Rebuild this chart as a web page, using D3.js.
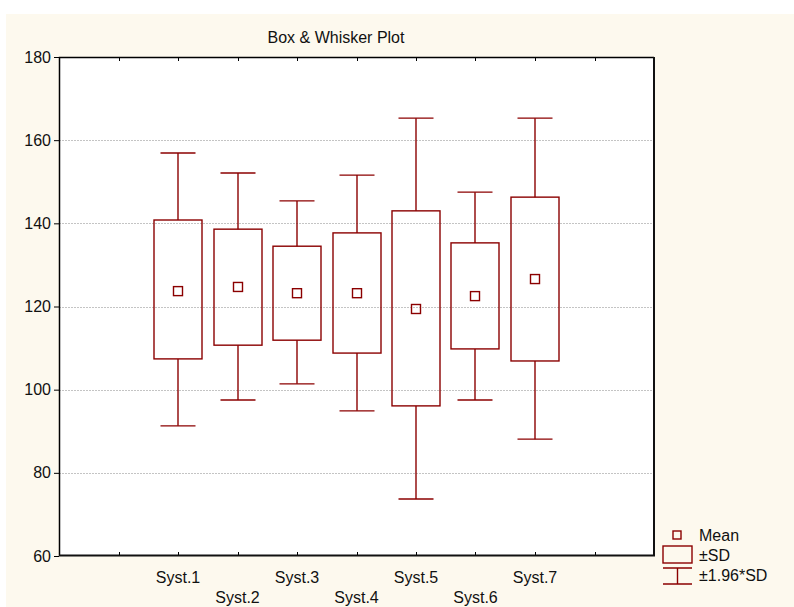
<!DOCTYPE html>
<html><head><meta charset="utf-8">
<script src="https://cdn.jsdelivr.net/npm/d3@7/dist/d3.min.js"></script>
<style>body{margin:0;background:#fff;} text{font-family:"Liberation Sans",Arial,sans-serif;}</style>
</head><body>
<svg id="c" width="794" height="607"></svg>
<script>
const categories = ["Syst.1","Syst.2","Syst.3","Syst.4","Syst.5","Syst.6","Syst.7"];
const means      = [123.7, 124.7, 123.2, 123.2, 119.4, 122.5, 126.6];
const sdHigh     = [140.8, 138.6, 134.5, 137.7, 143.0, 135.3, 146.3];
const sdLow      = [107.4, 110.7, 111.9, 108.8, 96.1, 109.8, 106.9];
const ciHigh     = [156.9, 152.1, 145.4, 151.6, 165.3, 147.5, 165.3];
const ciLow      = [91.3, 97.5, 101.4, 94.9, 73.7, 97.5, 88.1];
const yTicks     = [60, 80, 100, 120, 140, 160, 180];
const legendLabels = ["Mean", "\u00b1SD", "\u00b11.96*SD"];
const titleText = "Box & Whisker Plot";

const svg = d3.select("#c");
const col = "#8b0000";
const L = 59, R = 654, T = 57, B = 556;
const fs = 16;

svg.append("rect").attr("x",6).attr("y",14).attr("width",788).attr("height",593).attr("fill","#fdf9ee");
svg.append("rect").attr("x",L).attr("y",T).attr("width",R-L).attr("height",B-T).attr("fill","#fff");

const y = d3.scaleLinear().domain([60,180]).range([B,T]);
const x = d3.scaleLinear().domain([0,10]).range([L,R]);

// gridlines
svg.append("g").selectAll("line").data(yTicks.filter(v=>v>60&&v<180)).join("line")
  .attr("x1",L).attr("x2",R).attr("y1",d=>Math.round(y(d))+0.5).attr("y2",d=>Math.round(y(d))+0.5)
  .attr("stroke","#c4c4c4").attr("stroke-width",1).attr("stroke-dasharray","2,1");

// left axis
const ya = svg.append("g").attr("transform",`translate(${L},0)`)
  .call(d3.axisLeft(y).tickValues(yTicks).tickSize(5).tickPadding(3));
ya.select(".domain").remove();
ya.selectAll("line").attr("stroke","#000");
ya.selectAll("text").attr("font-size",fs).attr("fill","#111");

// top & bottom inward ticks
const xt = d3.range(1,10);
svg.append("g").selectAll("line").data(xt).join("line")
  .attr("x1",d=>Math.round(x(d))+0.5).attr("x2",d=>Math.round(x(d))+0.5).attr("y1",T).attr("y2",T+4).attr("stroke","#000");
svg.append("g").selectAll("line").data(xt).join("line")
  .attr("x1",d=>Math.round(x(d))+0.5).attr("x2",d=>Math.round(x(d))+0.5).attr("y1",B).attr("y2",B-4).attr("stroke","#000");

// category labels
svg.append("g").selectAll("text").data(categories).join("text")
  .attr("x",(d,i)=>x(i+2)).attr("y",(d,i)=>i%2===0?583:603)
  .attr("text-anchor","middle").attr("font-size",fs).attr("fill","#111").text(d=>d);

// boxes
const bw = 48, cw = 35, ms = 9;
const g = svg.append("g").attr("fill","none").attr("stroke",col).attr("stroke-width",1.4);
categories.forEach((c,i)=>{
  const cx = Math.round(x(i+2));
  g.append("line").attr("x1",cx).attr("x2",cx).attr("y1",y(ciHigh[i])).attr("y2",y(sdHigh[i]));
  g.append("line").attr("x1",cx).attr("x2",cx).attr("y1",y(sdLow[i])).attr("y2",y(ciLow[i]));
  g.append("line").attr("x1",cx-cw/2).attr("x2",cx+cw/2).attr("y1",y(ciHigh[i])).attr("y2",y(ciHigh[i]));
  g.append("line").attr("x1",cx-cw/2).attr("x2",cx+cw/2).attr("y1",y(ciLow[i])).attr("y2",y(ciLow[i]));
  g.append("rect").attr("x",cx-bw/2).attr("width",bw).attr("y",y(sdHigh[i])).attr("height",y(sdLow[i])-y(sdHigh[i]));
  g.append("rect").attr("x",cx-ms/2).attr("width",ms).attr("y",y(means[i])-ms/2).attr("height",ms);
});

// frame
svg.append("path").attr("d",`M${L+0.5},${B}V${T+0.5}H${R}`).attr("fill","none").attr("stroke","#000").attr("stroke-width",1.5);
svg.append("path").attr("d",`M${L},${B-0.5}H${R}V${T}`).attr("fill","none").attr("stroke","#111").attr("stroke-width",2);

// title
svg.append("text").attr("x",336).attr("y",43).attr("text-anchor","middle").attr("font-size",fs).attr("fill","#111").text(titleText);

// legend
const lg = svg.append("g");
lg.append("rect").attr("x",673).attr("y",531).attr("width",8).attr("height",8).attr("fill","none").attr("stroke",col).attr("stroke-width",1.4);
lg.append("rect").attr("x",663).attr("y",546).attr("width",29).attr("height",17).attr("fill","none").attr("stroke",col).attr("stroke-width",1.4);
lg.append("path").attr("d","M663,568H692M677.5,568V584M663,584H692").attr("fill","none").attr("stroke",col).attr("stroke-width",1.4);
lg.selectAll("text").data(legendLabels).join("text")
  .attr("x",699).attr("y",(d,i)=>541+i*20).attr("font-size",fs).attr("fill","#111").text(d=>d);
</script>
</body></html>
